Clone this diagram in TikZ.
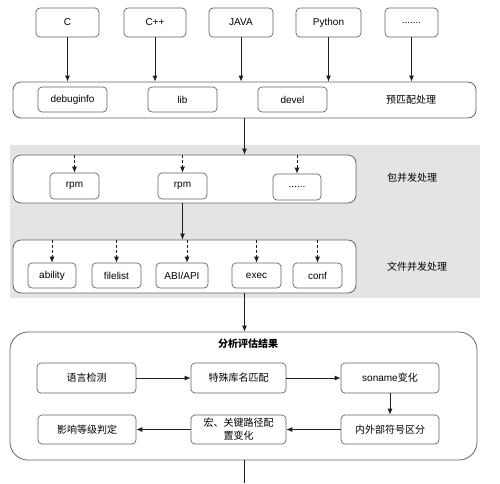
\documentclass[tikz,border=0pt]{standalone}
\usepackage{fontspec}
\setmainfont{Liberation Sans}
\newfontfamily\cjk{Noto Sans CJK SC}
\usetikzlibrary{arrows.meta,positioning,calc,backgrounds}
\definecolor{lineclr}{RGB}{30,30,30}
\definecolor{edgeclr}{RGB}{100,100,100}
\definecolor{bandgray}{RGB}{228,228,228}

\begin{document}
\begin{tikzpicture}[
    x=1pt, y=-1pt,
    >={Latex[length=6pt,width=5pt]},
    font=\fontsize{10}{12}\selectfont,
    box/.style={draw=edgeclr, fill=white, rounded corners=4pt, line width=0.7pt, inner sep=1pt, minimum height=26pt, align=center},
    band/.style={draw=edgeclr, fill=white, rounded corners=8pt, line width=0.8pt},
    tag/.style={font=\cjk\fontsize{10}{12}\selectfont},
    flow/.style={->, draw=lineclr, line width=0.8pt},
    dflow/.style={->, draw=lineclr, line width=0.8pt, dashed, dash pattern=on 3pt off 2pt}
]
\useasboundingbox (0,0) rectangle (500,483);
\fill[bandgray] (10,145) rectangle (480,298);

\node[box, minimum width=63pt, minimum height=29pt] (c) at (67.5,22.5) {C};
\node[box, minimum width=62pt, minimum height=29pt] (cpp) at (155,22.5) {C++};
\node[box, minimum width=64pt, minimum height=29pt] (java) at (241,22.5) {JAVA};
\node[box, minimum width=65pt, minimum height=29pt] (py) at (328.5,22.5) {Python};
\node[box, minimum width=53pt, minimum height=29pt] (more) at (411.5,22.5) {.......};

\node[band, minimum width=463pt, minimum height=36pt] (pre) at (244.5,100) {};
\node[box, minimum width=69pt, minimum height=25pt] (dbg) at (72.5,99.5) {debuginfo};
\node[box, minimum width=69pt, minimum height=25pt] (lib) at (182.5,99.5) {lib};
\node[box, minimum width=69pt, minimum height=25pt] (dev) at (292.5,99.5) {devel};
\node[tag] (pretag) at (411,100) {预匹配处理};

\node[band, minimum width=343pt, minimum height=48pt] (pkg) at (184.5,179) {};
\node[box, minimum width=49pt] (rpma) at (74.5,186) {rpm};
\node[box, minimum width=49pt] (rpmb) at (182.5,186) {rpm};
\node[box, minimum width=48pt] (rpmc) at (297,187) {......};
\node[tag] (pkgtag) at (412,178) {包并发处理};

\node[band, minimum width=343pt, minimum height=53pt] (file) at (184.5,266.5) {};
\node[box, minimum width=48pt, minimum height=25pt] (abil) at (52,275.5) {ability};
\node[box, minimum width=49pt, minimum height=25pt] (flist) at (116.5,275.5) {filelist};
\node[box, minimum width=52pt, minimum height=25pt] (abi) at (182,275.5) {ABI/API};
\node[box, minimum width=49pt, minimum height=25pt] (exec) at (256.5,275.5) {exec};
\node[box, minimum width=49pt, minimum height=25pt] (conf) at (317.5,275.5) {conf};
\node[tag] (filetag) at (417,267) {文件并发处理};

\node[band, rounded corners=18pt, minimum width=467pt, minimum height=128pt] (res) at (243.5,396) {};
\node[tag, font=\cjk\bfseries\fontsize{10}{12}\selectfont] (restag) at (248,344) {分析评估结果};
\node[box, tag, minimum width=99pt, minimum height=30pt] (lang) at (86.5,378) {语言检测};
\node[box, tag, minimum width=95pt, minimum height=30pt] (spec) at (238.5,378) {特殊库名匹配};
\node[box, minimum width=98pt, minimum height=30pt] (so) at (390,378) {soname{\cjk 变化}};
\node[box, tag, minimum width=98pt, minimum height=29pt] (lvl) at (87,429.5) {影响等级判定};
\node[box, tag, minimum width=95pt, minimum height=29pt, font=\cjk\fontsize{10}{13}\selectfont] (macro) at (238.5,429.5) {宏、关键路径配\\置变化};
\node[box, tag, minimum width=98pt, minimum height=29pt] (sym) at (390,429.5) {内外部符号区分};
\coordinate (out) at (244,483);

\foreach \s in {c,cpp,java,py,more}
    \draw[flow] (\s.south) -- (\s.south |- pre.north);
\draw[flow] (pre.south) -- (pre.south |- pkg.north);
\foreach \s in {rpma,rpmb,rpmc}
    \draw[dflow] (\s.north |- pkg.north) -- (\s.north);
\draw[flow] (rpmb.south |- pkg.south) -- (rpmb.south |- file.north);
\foreach \s in {abil,flist,exec,conf}
    \draw[dflow] (\s.north |- file.north) -- (\s.north);
\draw[dflow] ([xshift=5pt]abi.north |- file.north) -- ([xshift=5pt]abi.north);
\draw[flow] (pre.south |- file.south) -- (pre.south |- res.north);
\draw[flow] (lang) -- (spec);
\draw[flow] (spec) -- (so);
\draw[flow] (so) -- (sym);
\draw[flow] (sym) -- (macro);
\draw[flow] (macro) -- (lvl);
\draw[draw=lineclr, line width=0.8pt] (res.south -| out) -- (out);
\end{tikzpicture}
\end{document}
